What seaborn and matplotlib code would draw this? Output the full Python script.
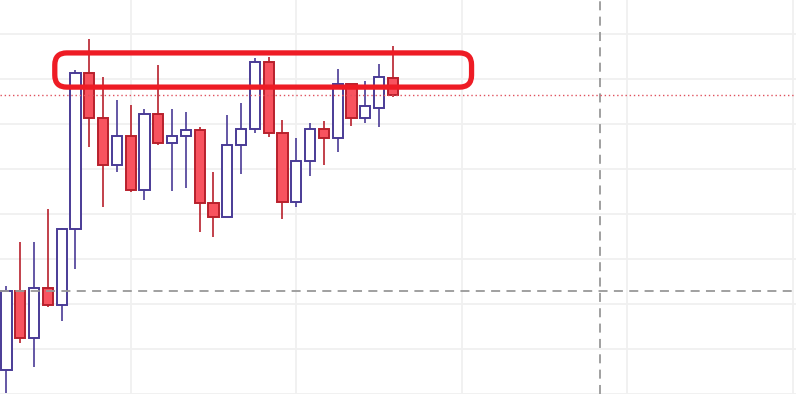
import numpy as np
import pandas as pd
import matplotlib
matplotlib.use("Agg")
import matplotlib.pyplot as plt
from matplotlib.patches import FancyBboxPatch
import seaborn as sns

# ---- data (OHLC per candle) ----
opens  = [95.3, 112.9, 102.4, 113.5, 109.7, 126.6, 161.3, 151.3, 141.0, 147.3,
          135.3, 152.2, 145.7, 147.3, 148.6, 132.4, 129.3, 145.3, 149.0, 163.7,
          147.9, 132.6, 141.7, 148.8, 147.0, 158.8, 151.3, 153.5, 160.2]
highs  = [114.0, 123.8, 123.8, 131.1, 126.9, 161.9, 168.9, 160.4, 155.3, 154.2,
          153.3, 163.1, 153.3, 152.7, 149.3, 139.3, 151.9, 154.6, 164.6, 164.9,
          150.8, 147.0, 150.2, 150.7, 162.2, 159.0, 159.5, 163.3, 167.3]
lows   = [90.2, 101.4, 95.9, 109.4, 106.3, 117.7, 144.8, 131.5, 139.4, 135.0,
          133.2, 145.4, 135.2, 135.8, 125.9, 124.8, 129.3, 139.0, 148.1, 147.2,
          129.0, 131.5, 138.4, 141.0, 143.8, 149.6, 150.3, 149.4, 156.1]
closes = [112.9, 102.4, 113.5, 109.7, 126.6, 161.3, 151.3, 141.0, 147.3, 135.3,
          152.2, 145.7, 147.3, 148.6, 132.4, 129.3, 145.3, 149.0, 163.7, 147.9,
          132.6, 141.7, 148.8, 147.0, 158.8, 151.3, 153.9, 160.4, 156.4]

crosshair_x = 43          # candle index of the vertical crosshair
crosshair_y = 112.9       # price level of the horizontal crosshair
highlight_x = (3.5, 33.7)     # candle range of the hand-drawn highlight
highlight_y = (158.2, 165.8)  # price range of the hand-drawn highlight

df = pd.DataFrame({"open": opens, "high": highs, "low": lows, "close": closes})
df["idx"] = np.arange(len(df))
df["up"] = df["close"] >= df["open"]

sns.set_theme(style="white")

UP_EDGE = "#4a3b96"
DOWN_EDGE = "#b8202c"
DOWN_FILL = "#f8535f"

fig = plt.figure(figsize=(7.96, 3.94), dpi=100)
ax = fig.add_axes([0, 0, 1, 1])
ax.set_facecolor("white")

# grid (ticks first, then limits so ticks don't widen the view)
ax.set_xticks(np.arange(-3, 60, 12))
ax.set_yticks(np.arange(90, 180, 10))
ax.set_xlim(-0.47, 57.21)
ax.set_ylim(90, 177.56)
ax.grid(True, color="#f0f0f0", linewidth=1.3)
ax.tick_params(left=False, bottom=False, labelleft=False, labelbottom=False)
for s in ax.spines.values():
    s.set_visible(False)
ax.set_axisbelow(True)

# wicks
for up, col in [(True, UP_EDGE), (False, DOWN_EDGE)]:
    d = df[df["up"] == up]
    ax.vlines(d["idx"], d["low"], d["high"], color=col, linewidth=1.2, zorder=2)

# bodies
bottoms = np.minimum(df["open"], df["close"])
heights = np.abs(df["close"] - df["open"])
ax.bar(df["idx"], heights, bottom=bottoms, width=0.75,
       color=[("white" if u else DOWN_FILL) for u in df["up"]],
       edgecolor=[(UP_EDGE if u else DOWN_EDGE) for u in df["up"]],
       linewidth=1.4, zorder=3)
ax.set_xlim(-0.47, 57.21)
ax.set_ylim(90, 177.56)

# crosshair + last price line (drawn over the candles)
ax.axhline(crosshair_y, color="#999999", linewidth=1.3, linestyle=(0, (5, 3.5)), zorder=4)
ax.axvline(crosshair_x, color="#999999", linewidth=1.3, linestyle=(0, (5, 3.5)), zorder=4)
ax.axhline(closes[-1], color="#e0525e", linewidth=1.0, linestyle=(0, (1, 2)), zorder=4)

# hand-drawn highlight (rounded box) drawn in display pixels
(x0, y0) = ax.transData.transform((highlight_x[0], highlight_y[0]))
(x1, y1) = ax.transData.transform((highlight_x[1], highlight_y[1]))
box = FancyBboxPatch((x0, y0), x1 - x0, y1 - y0,
                     boxstyle="round,pad=0,rounding_size=12",
                     transform=None, fill=False, edgecolor="#ee1c25",
                     linewidth=3.8, zorder=5)
ax.add_artist(box)

fig.savefig("out.png", dpi=100)
